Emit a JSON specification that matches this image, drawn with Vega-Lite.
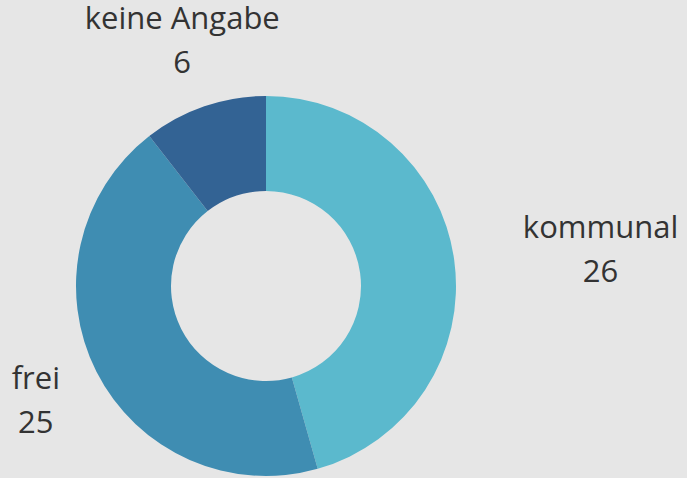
{
  "$schema": "https://vega.github.io/schema/vega-lite/v6.json",
  "width": 380,
  "height": 380,
  "autosize": "none",
  "padding": {"left": 76, "top": 96, "right": 231, "bottom": 2},
  "background": "#e6e6e6",
  "config": {"view": {"stroke": null}},
  "data": {
    "values": [
      {"cat": "kommunal", "value": 26, "rank": 1},
      {"cat": "frei", "value": 25, "rank": 2},
      {"cat": "keine Angabe", "value": 6, "rank": 3}
    ]
  },
  "encoding": {
    "theta": {"field": "value", "type": "quantitative", "stack": true},
    "order": {"field": "rank", "type": "quantitative"}
  },
  "layer": [
    {
      "mark": {"type": "arc", "outerRadius": 190, "innerRadius": 95},
      "encoding": {
        "color": {
          "field": "cat",
          "type": "nominal",
          "scale": {"domain": ["kommunal", "frei", "keine Angabe"], "range": ["#5bb9cd", "#3f8db2", "#336394"]},
          "legend": null
        }
      }
    },
    {
      "mark": {"type": "text", "radius": 258, "dy": -22, "font": "Open Sans", "fontSize": 31, "color": "#333333", "align": "center", "baseline": "middle"},
      "encoding": {
        "text": {"condition": {"test": "datum.cat === 'kommunal'", "value": ""}, "field": "cat", "type": "nominal"}
      }
    },
    {
      "mark": {"type": "text", "radius": 258, "dy": 22, "font": "Open Sans", "fontSize": 31, "color": "#333333", "align": "center", "baseline": "middle"},
      "encoding": {
        "text": {"condition": {"test": "datum.cat === 'kommunal'", "value": ""}, "field": "value", "type": "quantitative"}
      }
    },
    {
      "mark": {"type": "text", "radius": 258, "dx": 79, "dy": -22, "font": "Open Sans", "fontSize": 31, "color": "#333333", "align": "center", "baseline": "middle"},
      "encoding": {
        "text": {"condition": {"test": "datum.cat !== 'kommunal'", "value": ""}, "field": "cat", "type": "nominal"}
      }
    },
    {
      "mark": {"type": "text", "radius": 258, "dx": 79, "dy": 22, "font": "Open Sans", "fontSize": 31, "color": "#333333", "align": "center", "baseline": "middle"},
      "encoding": {
        "text": {"condition": {"test": "datum.cat !== 'kommunal'", "value": ""}, "field": "value", "type": "quantitative"}
      }
    }
  ]
}
